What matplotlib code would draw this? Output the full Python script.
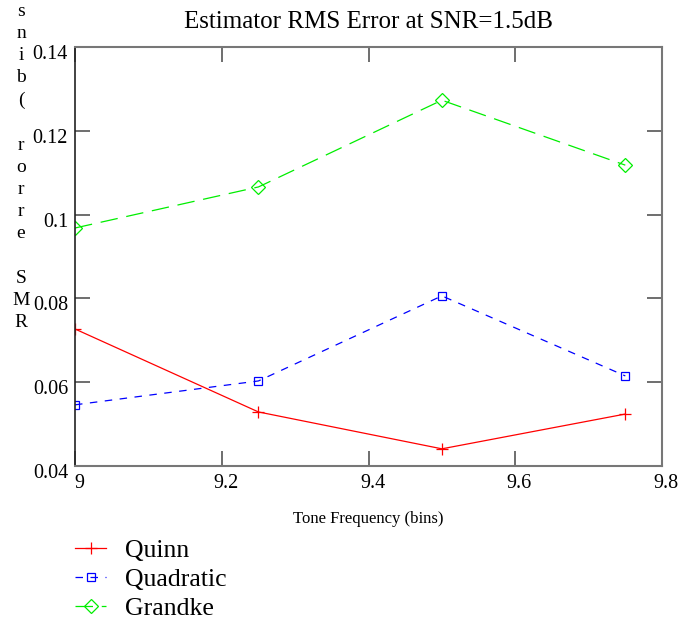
import matplotlib.pyplot as plt
import matplotlib.transforms as mtransforms

plt.rcParams['font.family'] = ['Liberation Serif', 'DejaVu Serif']

freq = [9.0, 9.25, 9.5, 9.75]
quinn = [0.0727, 0.0529, 0.0441, 0.0524]
quadratic = [0.0546, 0.0603, 0.0806, 0.0615]
grandke = [0.0968, 0.1066, 0.1273, 0.1118]
xticks = [9.0, 9.2, 9.4, 9.6, 9.8]
xticklabels = ['9', '9.2', '9.4', '9.6', '9.8']
yticks = [0.04, 0.06, 0.08, 0.1, 0.12, 0.14]
yticklabels = ['0.04', '0.06', '0.08', '0.1', '0.12', '0.14']


def main():
    fig = plt.figure(figsize=(6.8, 6.2), dpi=100)
    ax = fig.add_axes([75 / 680, 1 - 466 / 620, 587 / 680, 419 / 620])

    ax.plot(freq, quinn, color='#ff0000', lw=0.9, marker='+', ms=9,
            mew=0.9, label='Quinn')
    ax.plot(freq, quadratic, color='#0000ff', lw=0.9, ls=(0, (6, 6)),
            marker='s', ms=6, mfc='none', mew=0.9, label='Quadratic')
    ax.plot(freq, grandke, color='#00ee00', lw=0.9, ls=(0, (14, 7)),
            marker='D', ms=7, mfc='none', mew=0.9, label='Grandke')

    ax.set_xlim(9.0, 9.8)
    ax.set_ylim(0.04, 0.14)
    ax.set_xticks(xticks)
    ax.set_xticklabels(xticklabels)
    ax.set_yticks(yticks)
    ax.set_yticklabels(yticklabels)
    ax.tick_params(direction='in', length=11, width=1.2, color='#555555',
                   top=True, right=True, labelsize=14.5, pad=6)
    ax.tick_params(axis='y', pad=5)
    xoff = mtransforms.ScaledTranslation(4 / 100, 0, fig.dpi_scale_trans)
    for lab in ax.get_xticklabels():
        lab.set_transform(lab.get_transform() + xoff)
    yoff = mtransforms.ScaledTranslation(0, -5 / 100, fig.dpi_scale_trans)
    for lab in ax.get_yticklabels():
        lab.set_transform(lab.get_transform() + yoff)

    for side in ['top', 'right', 'bottom']:
        ax.spines[side].set_color('#777777')
        ax.spines[side].set_linewidth(1.5)
    ax.spines['left'].set_color('#222222')
    ax.spines['left'].set_linewidth(1.2)

    fig.text(0.5 * (75 + 662) / 680, 1 - 22 / 620,
             'Estimator RMS Error at SNR=1.5dB', ha='center', va='center',
             fontsize=18)
    fig.text(0.5 * (75 + 662) / 680, 1 - 519 / 620,
             'Tone Frequency (bins)', ha='center', va='center', fontsize=12)

    ylab = '\n'.join('RMS error (bins'[::-1])
    fig.text(21 / 680, 1 - 167 / 620, ylab, ha='center', va='center',
             fontsize=14, linespacing=1.4)

    fig.legend(loc='upper left', bbox_to_anchor=(65 / 680, 1 - 529 / 620),
               frameon=False, fontsize=18.5, handlelength=1.2,
               handletextpad=0.75, labelspacing=0.22, borderaxespad=0)

    fig.savefig('out.png', dpi=100)


if __name__ == '__main__':
    main()
